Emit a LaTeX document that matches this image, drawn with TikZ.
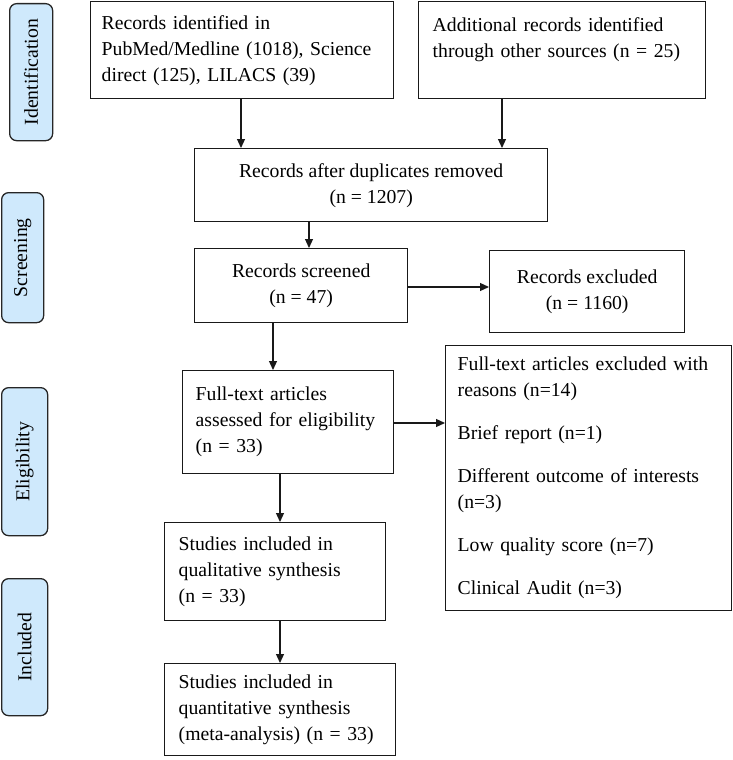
\documentclass[tikz,border=0pt]{standalone}
\usepackage{fontspec}
\setmainfont{Liberation Serif}
\usetikzlibrary{arrows.meta,calc}
\begin{document}
\begin{tikzpicture}[x=1pt,y=-1pt,
  every node/.style={font=\fontsize{19.7}{26}\selectfont},
  box/.style={draw=black!90, line width=1.4pt, inner sep=0pt, anchor=north west},
  phase/.style={draw=black!85, line width=1.3pt, rounded corners=7pt, fill=phasecol, inner sep=0pt, anchor=north west},
  arr/.style={line width=1.2pt, draw=black!90, -{Triangle[length=9pt,width=8pt]}}
]
\definecolor{phasecol}{RGB}{207,233,252}
\useasboundingbox (0,0) rectangle (732,760);

% phase labels
\node[phase, minimum width=43pt, minimum height=137pt] (pid) at (9,3) {};
\node[rotate=90] at (pid.center) {Identification};
\node[phase, minimum width=42pt, minimum height=130pt] (psc) at (1,192) {};
\node[rotate=90] at (psc.center) {Screening};
\node[phase, minimum width=46pt, minimum height=148pt] (pel) at (1,387) {};
\node[rotate=90] at (pel.center) {Eligibility};
\node[phase, minimum width=46pt, minimum height=137pt] (pin) at (1,578) {};
\node[rotate=90] at (pin.center) {Included};

% boxes
\node[box, minimum width=303pt, minimum height=97pt, text width=281pt, align=left] (A) at (90,1)
  {Records identified in\\PubMed/Medline (1018), Science\\direct (125), LILACS (39)};
\node[box, minimum width=287pt, minimum height=97pt, text width=259pt, align=left] (B) at (418,1)
  {Additional records identified\\through other sources (n = 25)\\\mbox{}};
\node[box, minimum width=353pt, minimum height=73pt, align=center] (C) at (194,148)
  {Records after duplicates removed\\(n = 1207)};
\node[box, minimum width=213pt, minimum height=74pt, align=center] (D) at (194,248)
  {Records screened\\(n = 47)};
\node[box, minimum width=195pt, minimum height=82pt, align=center] (E) at (489,250)
  {Records excluded\\(n = 1160)};
\node[box, minimum width=211pt, minimum height=103pt, text width=185pt, align=left] (F) at (182,370)
  {Full-text articles\\assessed for eligibility\\(n = 33)};
\node[box, minimum width=286pt, minimum height=265pt, text width=262pt, align=left] (G) at (445,345)
  {Full-text articles excluded with\\reasons (n=14)\\[17pt]Brief report (n=1)\\[17pt]Different outcome of interests\\(n=3)\\[17pt]Low quality score (n=7)\\[17pt]Clinical Audit (n=3)};
\node[box, minimum width=221pt, minimum height=98pt, text width=193pt, align=left] (H) at (164,522)
  {Studies included in\\qualitative synthesis\\(n = 33)};
\node[box, minimum width=231pt, minimum height=92pt, text width=203pt, align=left] (I) at (164,663)
  {Studies included in\\quantitative synthesis\\(meta-analysis) (n = 33)};

% connectors
\draw[arr] ([xshift=151pt]A.south west) -- ([xshift=151pt]A.south west |- C.north);
\draw[arr] ([xshift=84pt]B.south west) -- ([xshift=84pt]B.south west |- C.north);
\draw[arr] ([xshift=115pt]C.south west) -- ([xshift=115pt]C.south west |- D.north);
\draw[arr] ([yshift=-39pt]D.north east) -- ([yshift=-39pt]D.north east -| E.west);
\draw[arr] ([xshift=79pt]D.south west) -- ([xshift=79pt]D.south west |- F.north);
\draw[arr] ([yshift=-53pt]F.north east) -- ([yshift=-53pt]F.north east -| G.west);
\draw[arr] ([xshift=98pt]F.south west) -- ([xshift=98pt]F.south west |- H.north);
\draw[arr] ([xshift=116pt]H.south west) -- ([xshift=116pt]H.south west |- I.north);
\end{tikzpicture}
\end{document}
